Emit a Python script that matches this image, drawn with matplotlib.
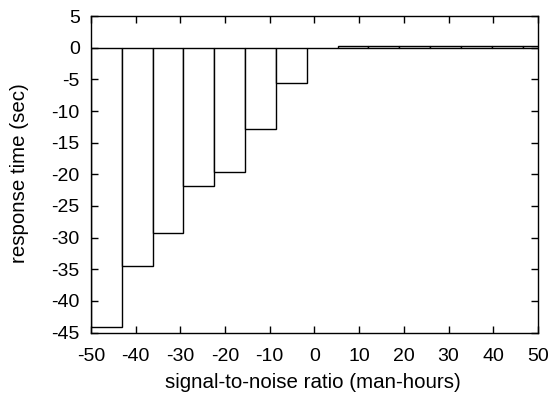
import numpy as np
import matplotlib
matplotlib.use("Agg")
import matplotlib.pyplot as plt

plt.rcParams['font.family'] = ['Liberation Sans', 'DejaVu Sans']
plt.rcParams['axes.unicode_minus'] = False

# left edges of the boxes (width ~6.9)
bordes = [-50.0, -43.1, -36.2, -29.3, -22.4, -15.5, -8.6, -1.7,
          5.2, 12.1, 19.0, 25.9, 32.8, 39.7, 46.6]
valores = [-44.2, -34.5, -29.3, -21.8, -19.6, -12.8, -5.5, -0.1,
           0.25, 0.25, 0.25, 0.25, 0.3, 0.25, 0.25]
ancho = 6.9

xticks = list(range(-50, 51, 10))
yticks = list(range(-45, 6, 5))

W, H = 554, 394
fig = plt.figure(figsize=(W / 100, H / 100), dpi=100)
ax = fig.add_axes([0.164, 0.156, 0.807, 0.803])

ax.bar(bordes, valores, width=ancho, align='edge', color='white',
       edgecolor='black', linewidth=1.0)

ax.set_xlim(-50, 50)
ax.set_ylim(-45, 5)
ax.set_xticks(xticks)
ax.set_yticks(yticks)
ax.tick_params(direction='in', length=5, width=1, top=True, right=True,
               labelsize=14)
ax.tick_params(axis='x', pad=11)
ax.tick_params(axis='y', pad=8)
for s in ax.spines.values():
    s.set_linewidth(1.0)

# etiquetas de ejes colocadas como en el original
fig.text(313 / W, 1 - 388 / H, 'signal-to-noise ratio (man-hours)',
         fontsize=14.8, ha='center', va='baseline')
fig.text(20 / W, 1 - 173 / H, 'response time (sec)', fontsize=14.8,
         rotation=90, ha='center', va='center')

plt.savefig('out.png', dpi=100)
